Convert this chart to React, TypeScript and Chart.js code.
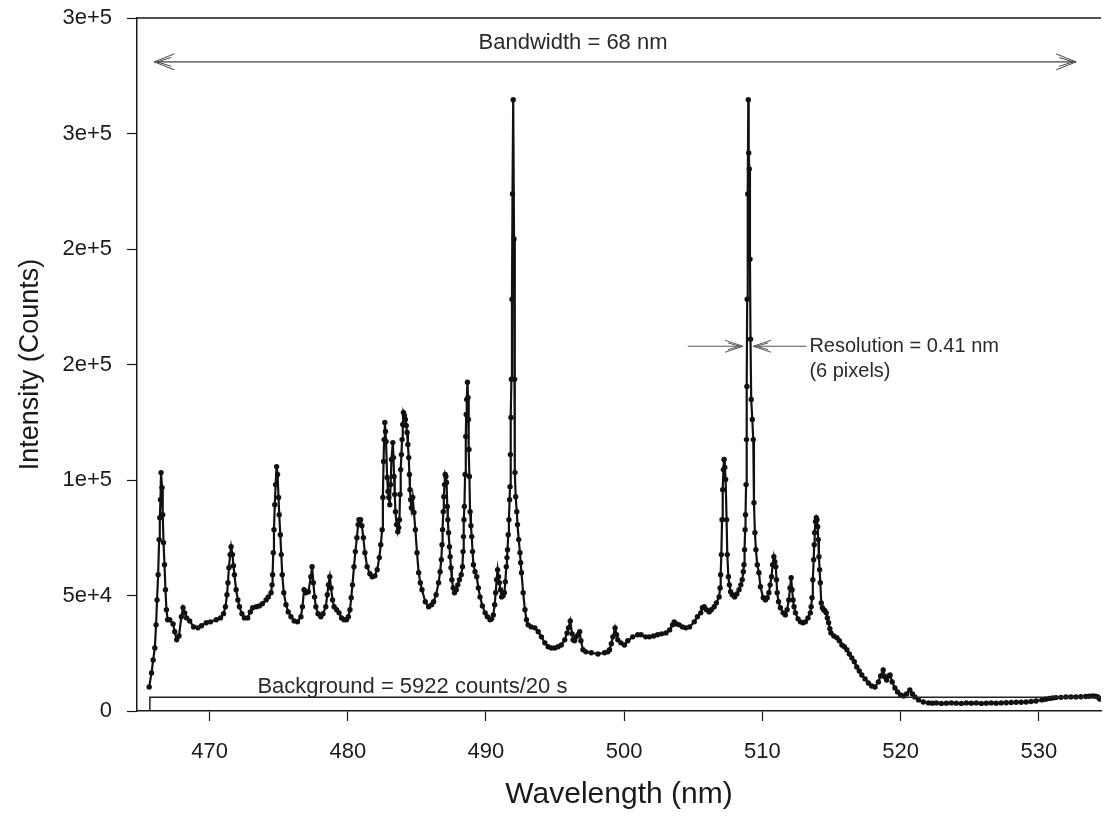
import { useEffect, useRef } from "react";
import { Chart, registerables } from "chart.js";

Chart.register(...registerables);

// ---------------- data ----------------
const wavelengths = [
  465.63, 465.80, 465.92, 466.04, 466.13, 466.20, 466.28, 466.35, 466.40, 466.45,
  466.49, 466.56, 466.61, 466.67, 466.74, 466.81, 466.88, 466.97, 467.12, 467.36,
  467.48, 467.62, 467.79, 467.96, 468.08, 468.20, 468.34, 468.56, 468.85, 469.16,
  469.42, 469.76, 470.07, 470.48, 470.79, 471.01, 471.15, 471.26, 471.33, 471.40,
  471.49, 471.56, 471.66, 471.73, 471.80, 471.92, 472.05, 472.16, 472.34, 472.52,
  472.76, 472.95, 473.12, 473.39, 473.60, 473.82, 474.09, 474.25, 474.45, 474.52,
  474.56, 474.61, 474.66, 474.72, 474.78, 474.85, 474.92, 474.99, 475.04, 475.12,
  475.19, 475.26, 475.37, 475.53, 475.69, 475.89, 476.12, 476.36, 476.61, 476.72,
  476.84, 476.97, 477.15, 477.33, 477.42, 477.51, 477.60, 477.69, 477.85, 478.05,
  478.21, 478.41, 478.52, 478.60, 478.70, 478.79, 478.90, 479.01, 479.19, 479.37,
  479.55, 479.73, 479.91, 480.04, 480.16, 480.25, 480.34, 480.45, 480.55, 480.66,
  480.75, 480.81, 480.93, 481.02, 481.13, 481.24, 481.40, 481.60, 481.77, 481.96,
  482.13, 482.28, 482.39, 482.49, 482.54, 482.59, 482.63, 482.68, 482.73, 482.77,
  482.85, 482.91, 482.97, 483.04, 483.10, 483.16, 483.26, 483.31, 483.35, 483.40,
  483.45, 483.53, 483.62, 483.69, 483.74, 483.78, 483.83, 483.88, 483.93, 483.98,
  484.03, 484.10, 484.17, 484.23, 484.29, 484.35, 484.41, 484.46, 484.50, 484.55,
  484.60, 484.70, 484.79, 484.89, 485.01, 485.13, 485.25, 485.37, 485.61, 485.85,
  486.07, 486.21, 486.39, 486.57, 486.68, 486.77, 486.82, 486.86, 486.91, 486.95,
  487.00, 487.05, 487.10, 487.15, 487.20, 487.24, 487.29, 487.36, 487.41, 487.47,
  487.53, 487.63, 487.72, 487.85, 487.96, 488.08, 488.21, 488.30, 488.34, 488.37,
  488.41, 488.44, 488.49, 488.54, 488.57, 488.61, 488.66, 488.70, 488.73, 488.77,
  488.80, 488.85, 488.91, 488.97, 489.03, 489.09, 489.21, 489.33, 489.45, 489.57,
  489.74, 489.94, 490.10, 490.30, 490.41, 490.53, 490.63, 490.70, 490.77, 490.84,
  490.91, 490.97, 491.05, 491.13, 491.23, 491.33, 491.40, 491.47, 491.52, 491.56,
  491.61, 491.66, 491.71, 491.74, 491.77, 491.81, 491.84, 491.88, 491.92, 491.97,
  492.03, 492.07, 492.10, 492.15, 492.23, 492.28, 492.37, 492.46, 492.51, 492.57,
  492.69, 492.82, 492.93, 493.05, 493.27, 493.54, 493.78, 494.01, 494.26, 494.50,
  494.73, 494.98, 495.22, 495.45, 495.70, 495.87, 495.97, 496.10, 496.23, 496.30,
  496.41, 496.53, 496.66, 496.78, 496.87, 497.02, 497.23, 497.62, 498.10, 498.58,
  498.82, 498.94, 499.07, 499.18, 499.34, 499.45, 499.54, 499.76, 500.02, 500.26,
  500.62, 500.98, 501.22, 501.56, 501.82, 502.13, 502.42, 502.71, 503.02, 503.29,
  503.50, 503.62, 503.79, 503.98, 504.22, 504.46, 504.73, 505.07, 505.30, 505.54,
  505.66, 505.79, 505.95, 506.15, 506.31, 506.51, 506.67, 506.87, 506.94, 506.98,
  507.03, 507.08, 507.13, 507.18, 507.23, 507.28, 507.34, 507.41, 507.46, 507.54,
  507.61, 507.70, 507.82, 507.99, 508.15, 508.31, 508.44, 508.54, 508.62, 508.67,
  508.71, 508.75, 508.78, 508.82, 508.85, 508.88, 508.90, 508.94, 508.98, 509.01,
  509.05, 509.10, 509.14, 509.19, 509.27, 509.34, 509.39, 509.46, 509.53, 509.63,
  509.75, 509.86, 510.06, 510.22, 510.35, 510.47, 510.56, 510.66, 510.74, 510.83,
  510.90, 510.97, 511.02, 511.07, 511.17, 511.30, 511.50, 511.66, 511.79, 511.91,
  512.00, 512.08, 512.15, 512.22, 512.29, 512.39, 512.58, 512.75, 512.94, 513.11,
  513.30, 513.47, 513.53, 513.59, 513.65, 513.71, 513.75, 513.78, 513.84, 513.90,
  513.95, 514.00, 514.04, 514.09, 514.14, 514.19, 514.26, 514.34, 514.43, 514.52,
  514.62, 514.70, 514.79, 514.88, 514.96, 515.17, 515.39, 515.57, 515.75, 515.93,
  516.11, 516.29, 516.47, 516.65, 516.83, 517.01, 517.19, 517.43, 517.67, 517.91,
  518.15, 518.39, 518.56, 518.74, 518.88, 518.99, 519.14, 519.24, 519.39, 519.59,
  519.78, 520.00, 520.22, 520.43, 520.67, 520.86, 521.03, 521.30, 521.64, 522.02,
  522.30, 522.59, 522.95, 523.31, 523.67, 524.03, 524.40, 524.76, 525.12, 525.48,
  525.84, 526.20, 526.56, 526.92, 527.28, 527.64, 528.00, 528.36, 528.72, 529.08,
  529.44, 529.80, 530.23, 530.50, 530.76, 531.00, 531.24, 531.60, 531.96, 532.32,
  532.68, 533.04, 533.40, 533.65, 533.90, 534.10, 534.27, 534.41,
];

const intensities = [
  10400, 16500, 22100, 27300, 37300, 48100, 59000, 74200, 83700, 91500,
  103200, 96700, 85000, 72900, 63300, 52500, 43800, 39500, 39500, 37700,
  34300, 30800, 32500, 40800, 44700, 42500, 40300, 39000, 36400, 36000,
  36900, 38200, 38600, 39500, 40300, 42100, 45100, 50300, 55500, 62000,
  67700, 71100, 67700, 62900, 59000, 52500, 48100, 45100, 42100, 40300,
  40300, 42900, 44700, 45100, 45500, 46400, 48100, 49400, 51200, 54600,
  59000, 68500, 78500, 89300, 98000, 105800, 102400, 92400, 85000, 76300,
  67700, 59000, 51200, 46000, 42900, 40800, 39000, 38600, 40800, 45100,
  52500, 51200, 51600, 58100, 62500, 55500, 49400, 45100, 42100, 40800,
  42100, 45100, 50300, 54600, 58100, 53300, 48100, 45100, 43800, 42500,
  40300, 39500, 39500, 40800, 43800, 49000, 54600, 62500, 69000, 75000,
  80700, 82800, 82800, 80200, 75000, 68500, 62500, 59400, 58100, 58500,
  61200, 66400, 72000, 78500, 92400, 108000, 117500, 124900, 121000, 116700,
  101100, 95000, 92400, 89300, 98000, 108900, 116200, 109700, 101500, 93700,
  86300, 80700, 77600, 79400, 82800, 93700, 104500, 111000, 117500, 124000,
  129200, 127900, 126200, 123600, 120600, 115400, 109700, 102400, 95800, 91500,
  88000, 92400, 85900, 78500, 68500, 59900, 55500, 52500, 47300, 45100,
  46000, 47300, 50300, 55500, 60300, 65500, 72000, 78500, 86300, 92800,
  98000, 102400, 101500, 98900, 88500, 82800, 77200, 71100, 66800, 62000,
  56800, 53300, 51200, 52500, 54600, 56800, 59000, 62500, 69000, 75500,
  82800, 88500, 102400, 118800, 128400, 134900, 142300, 135700, 126200, 113200,
  101500, 86300, 80200, 75500, 69000, 63300, 60300, 58100, 53300, 49400,
  45500, 42500, 40800, 39500, 39900, 41600, 46000, 51200, 56800, 61200,
  58100, 55500, 52500, 49400, 49900, 51200, 55900, 62500, 66400, 69800,
  76300, 82800, 91500, 97100, 111000, 127100, 143600, 178300, 223800, 264600,
  204300, 143600, 103200, 92800, 86300, 80700, 74200, 68500, 64200, 59900,
  51200, 43800, 39500, 37300, 36400, 36000, 34300, 32100, 29500, 27800,
  27300, 27300, 27800, 28600, 30800, 33800, 36000, 39000, 33400, 30800,
  30400, 32100, 33000, 34300, 30400, 26500, 25600, 25200, 24700, 25200,
  25600, 26500, 29100, 32100, 36000, 33000, 30800, 29500, 28600, 30400,
  32100, 33000, 33000, 32100, 32100, 32500, 33000, 33400, 33800, 35100,
  37300, 38600, 37700, 37300, 36400, 36000, 36400, 38600, 40800, 42500,
  44700, 45100, 43800, 42900, 43800, 45100, 46800, 49400, 53300, 59000,
  67700, 82800, 95800, 104500, 108900, 105400, 100200, 82800, 67700, 58100,
  54600, 51600, 50300, 49400, 50700, 52500, 54600, 56800, 60300, 63300,
  69800, 78500, 85000, 98000, 117500, 140500, 178300, 223800, 264600, 241600,
  234600, 195600, 160900, 134900, 126200, 117500, 90200, 77200, 69800, 63300,
  59900, 53800, 49000, 48100, 49000, 51200, 54600, 58100, 63300, 66800,
  64600, 62500, 56800, 51200, 47300, 44700, 42500, 41600, 43800, 48100,
  53300, 57700, 52500, 48100, 45100, 42500, 39900, 38600, 38200, 38600,
  40300, 42500, 45100, 49000, 56800, 65500, 72000, 77200, 82000, 83700,
  82800, 79800, 74200, 66800, 61200, 55500, 46800, 44700, 43800, 43400,
  42500, 40300, 38200, 35600, 33800, 32500, 31700, 30400, 28600, 27800,
  26500, 24700, 23000, 21300, 19100, 17300, 15600, 13900, 12100, 10800,
  10400, 12600, 15200, 17800, 14700, 13400, 15200, 15600, 12600, 10000,
  8200, 6900, 6500, 7400, 9100, 7400, 6100, 4800, 3900, 3500,
  3400, 3500, 3300, 3400, 3500, 3400, 3300, 3500, 3400, 3500,
  3300, 3400, 3500, 3400, 3500, 3600, 3700, 3800, 3800, 3900,
  4100, 4300, 4800, 5100, 5400, 5600, 5800, 5900, 6100, 6100,
  6100, 6200, 6300, 6400, 6500, 6400, 6100, 5200,
];

const backgroundCounts = 5922;
const backgroundStart = 465.68;
const xTicks = [470, 480, 490, 500, 510, 520, 530];
const yTicks = [0, 50000, 100000, 150000, 200000, 250000, 300000];
const xRange = [464.75, 534.5];
const yRange = [0, 300000];

// annotation anchors (data units)
const bandwidthArrow = { from: 466.0, to: 532.7, level: 281000 };
const bandwidthLabel = { text: "Bandwidth = 68 nm", at: 496.3, level: 289000 };
const resolutionArrow = { leftTail: 504.6, leftTip: 508.6, rightTip: 509.33, rightTail: 513.2, level: 157900 };
const resolutionLines = ["Resolution = 0.41 nm", "(6 pixels)"];
const resolutionLabel = { at: 513.4, levels: [157900, 146800] };
const backgroundLabel = { text: "Background = 5922 counts/20 s", at: 473.46, level: 7600 };

const FONT = "'Liberation Sans', Arial, Helvetica, sans-serif";
const INK = "#1a1a1a";

function chevron(ctx: CanvasRenderingContext2D, tipX: number, tipY: number, dir: number, len: number, half: number) {
  ctx.beginPath();
  ctx.moveTo(tipX - dir * len, tipY - half);
  ctx.lineTo(tipX, tipY);
  ctx.lineTo(tipX - dir * len, tipY + half);
  ctx.stroke();
  ctx.beginPath();
  ctx.moveTo(tipX - dir * (len - 3), tipY - half * 0.55);
  ctx.lineTo(tipX - dir * 3, tipY);
  ctx.lineTo(tipX - dir * (len - 3), tipY + half * 0.55);
  ctx.stroke();
}

const annotationPlugin = {
  id: "spectrumAnnotations",
  afterDatasetsDraw(chart: any) {
    const { ctx, chartArea, scales } = chart;
    const xs = scales.x;
    const ys = scales.y;
    ctx.save();

    // top frame line
    ctx.strokeStyle = INK;
    ctx.lineWidth = 1.5;
    ctx.beginPath();
    ctx.moveTo(chartArea.left, chartArea.top);
    ctx.lineTo(chartArea.right, chartArea.top);
    ctx.stroke();

    // bandwidth arrow
    const by = ys.getPixelForValue(bandwidthArrow.level);
    const bx1 = xs.getPixelForValue(bandwidthArrow.from);
    const bx2 = xs.getPixelForValue(bandwidthArrow.to);
    ctx.strokeStyle = "#444";
    ctx.lineWidth = 1.4;
    ctx.beginPath();
    ctx.moveTo(bx1, by);
    ctx.lineTo(bx2, by);
    ctx.stroke();
    ctx.lineWidth = 1;
    chevron(ctx, bx1, by, -1, 20, 8);
    chevron(ctx, bx2, by, 1, 20, 8);

    ctx.fillStyle = "#2a2a2a";
    ctx.font = `22px ${FONT}`;
    ctx.textAlign = "center";
    ctx.textBaseline = "middle";
    ctx.fillText(bandwidthLabel.text, xs.getPixelForValue(bandwidthLabel.at), ys.getPixelForValue(bandwidthLabel.level));

    // resolution arrows
    const ry = ys.getPixelForValue(resolutionArrow.level);
    const lt = xs.getPixelForValue(resolutionArrow.leftTail);
    const lp = xs.getPixelForValue(resolutionArrow.leftTip);
    const rp = xs.getPixelForValue(resolutionArrow.rightTip);
    const rt = xs.getPixelForValue(resolutionArrow.rightTail);
    ctx.strokeStyle = "#555";
    ctx.lineWidth = 1.2;
    ctx.beginPath();
    ctx.moveTo(lt, ry);
    ctx.lineTo(lp, ry);
    ctx.moveTo(rp, ry);
    ctx.lineTo(rt, ry);
    ctx.stroke();
    ctx.lineWidth = 1;
    chevron(ctx, lp, ry, 1, 18, 6);
    chevron(ctx, rp, ry, -1, 18, 6);

    ctx.fillStyle = "#2a2a2a";
    ctx.font = `20px ${FONT}`;
    ctx.textAlign = "left";
    ctx.textBaseline = "middle";
    const rx = xs.getPixelForValue(resolutionLabel.at);
    resolutionLines.forEach((t, i) => {
      ctx.fillText(t, rx, ys.getPixelForValue(resolutionLabel.levels[i]));
    });

    // background label
    ctx.font = `22px ${FONT}`;
    ctx.textAlign = "left";
    ctx.textBaseline = "alphabetic";
    ctx.fillText(backgroundLabel.text, xs.getPixelForValue(backgroundLabel.at), ys.getPixelForValue(backgroundLabel.level));

    ctx.restore();
  },
};

export default function App() {
  const canvasRef = useRef<HTMLCanvasElement | null>(null);

  useEffect(() => {
    if (!canvasRef.current) return;
    const spectrum = wavelengths.map((w, i) => ({ x: w, y: intensities[i] }));
    const background = [
      { x: backgroundStart, y: 0 },
      { x: backgroundStart, y: backgroundCounts },
      { x: xRange[1], y: backgroundCounts },
    ];

    const chart = new Chart(canvasRef.current, {
      type: "line",
      data: {
        datasets: [
          {
            label: "Background",
            data: background,
            borderColor: "#222",
            borderWidth: 1.5,
            pointRadius: 0,
            fill: false,
            tension: 0,
          },
          {
            label: "Spectrum",
            data: spectrum,
            borderColor: "#111",
            borderWidth: 2.2,
            pointRadius: 2.7,
            pointBackgroundColor: "#111",
            pointBorderWidth: 0,
            fill: false,
            tension: 0,
          },
        ],
      },
      options: {
        animation: false,
        responsive: true,
        maintainAspectRatio: false,
        parsing: false as any,
        layout: { padding: { top: 18, right: 0, left: 0, bottom: 0 } },
        plugins: {
          legend: { display: false },
          tooltip: { enabled: false },
        },
        scales: {
          x: {
            type: "linear",
            min: xRange[0],
            max: xRange[1],
            afterBuildTicks: (s: any) => {
              s.ticks = xTicks.map((v) => ({ value: v }));
            },
            afterFit: (s: any) => {
              s.height = 106;
              s.paddingLeft = 0;
              s.paddingRight = 0;
            },
            grid: { drawOnChartArea: false, drawTicks: true, tickLength: 10, color: INK, tickWidth: 1.2 },
            border: { display: true, color: INK, width: 1.5 },
            ticks: {
              autoSkip: false,
              maxRotation: 0,
              padding: 18,
              color: INK,
              font: { family: FONT, size: 22 },
              callback: (v: any) => String(v),
            },
            title: {
              display: true,
              text: "Wavelength (nm)",
              color: INK,
              font: { family: FONT, size: 30 },
              padding: { top: 0, bottom: 4 },
            },
          },
          y: {
            type: "linear",
            min: yRange[0],
            max: yRange[1],
            afterBuildTicks: (s: any) => {
              s.ticks = yTicks.map((v) => ({ value: v }));
            },
            afterFit: (s: any) => {
              s.width = 137;
              s.paddingTop = 0;
              s.paddingBottom = 0;
            },
            grid: { drawOnChartArea: false, drawTicks: true, tickLength: 10, color: INK, tickWidth: 1.2 },
            border: { display: true, color: INK, width: 1.5 },
            ticks: {
              padding: 15,
              color: INK,
              font: { family: FONT, size: 22 },
              callback: (v: any) => (Number(v) === 0 ? "0" : Number(v).toExponential(0)),
            },
            title: {
              display: true,
              text: "Intensity (Counts)",
              color: INK,
              font: { family: FONT, size: 27 },
              padding: { top: 14, bottom: 0 },
            },
          },
        },
      },
      plugins: [annotationPlugin],
    });

    return () => chart.destroy();
  }, []);

  return (
    <div style={{ position: "fixed", left: 0, top: 0, width: 1105, height: 817, background: "#fff" }}>
      <canvas ref={canvasRef} />
    </div>
  );
}
